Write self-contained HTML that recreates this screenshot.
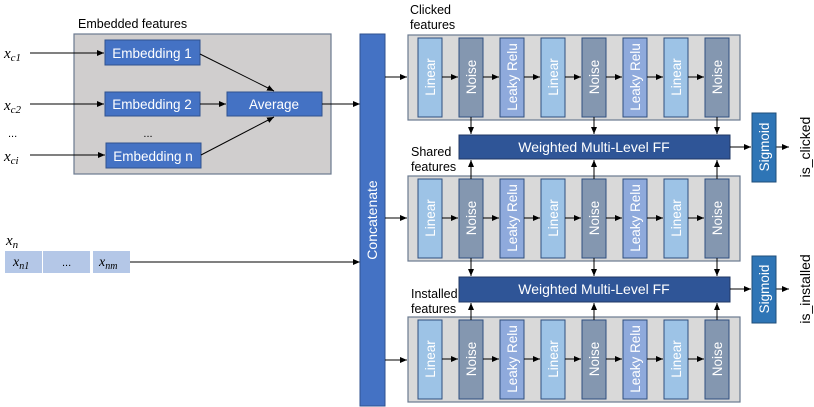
<!DOCTYPE html>
<html><head><meta charset="utf-8"><style>
html,body{margin:0;padding:0;background:#fff}
svg{display:block}
text{font-family:"Liberation Sans",sans-serif}
.m{font-family:"Liberation Serif",serif;font-style:italic}
.w{fill:#fff;font-size:13.5px}
.bl{fill:#4472c4;stroke:#2f528f;stroke-width:1}
.L{fill:#9dc3e6;stroke:#2f4f7f;stroke-width:1}
.N{fill:#8497b0;stroke:#2f4f7f;stroke-width:1}
.R{fill:#8faadc;stroke:#2f4f7f;stroke-width:1}
.gb{fill:#d9d9d9;stroke:#6b7a90;stroke-width:1.2}
.ln{stroke:#000;stroke-width:1;fill:none}
</style></head><body>
<svg width="814" height="407" viewBox="0 0 814 407" xmlns="http://www.w3.org/2000/svg">
<defs>
<marker id="a" markerWidth="8" markerHeight="8" refX="7" refY="4" orient="auto" markerUnits="userSpaceOnUse">
<path d="M0,1 L7,4 L0,7 z" fill="#000"/></marker>
<g id="row">
<rect class="gb" x="408" y="35" width="332" height="85"/>
<rect class="L" x="418" y="38" width="24" height="79"/>
<rect class="N" x="459" y="38" width="24" height="79"/>
<rect class="R" x="500" y="38" width="24" height="79"/>
<rect class="L" x="541" y="38" width="24" height="79"/>
<rect class="N" x="582" y="38" width="24" height="79"/>
<rect class="R" x="623" y="38" width="24" height="79"/>
<rect class="L" x="664" y="38" width="24" height="79"/>
<rect class="N" x="705" y="38" width="24" height="79"/>
<g class="ln" marker-end="url(#a)">
<line x1="442" y1="77" x2="458" y2="77"/>
<line x1="483" y1="77" x2="499" y2="77"/>
<line x1="524" y1="77" x2="540" y2="77"/>
<line x1="565" y1="77" x2="581" y2="77"/>
<line x1="606" y1="77" x2="622" y2="77"/>
<line x1="647" y1="77" x2="663" y2="77"/>
<line x1="688" y1="77" x2="704" y2="77"/>
</g>
<g class="w" text-anchor="middle">
<text transform="translate(435,77) rotate(-90)">Linear</text>
<text transform="translate(476,77) rotate(-90)">Noise</text>
<text transform="translate(517,77) rotate(-90)">Leaky Relu</text>
<text transform="translate(558,77) rotate(-90)">Linear</text>
<text transform="translate(599,77) rotate(-90)">Noise</text>
<text transform="translate(640,77) rotate(-90)">Leaky Relu</text>
<text transform="translate(681,77) rotate(-90)">Linear</text>
<text transform="translate(722,77) rotate(-90)">Noise</text>
</g>
</g>
</defs>

<text x="78" y="28" font-size="12.5">Embedded features</text>
<rect x="74" y="34" width="257" height="140" fill="#d0cece" stroke="#6b7a90" stroke-width="1.2"/>
<rect class="bl" x="105" y="40" width="95" height="25"/>
<rect class="bl" x="105" y="92" width="95" height="24"/>
<rect class="bl" x="106" y="143" width="95" height="25"/>
<rect class="bl" x="227" y="92" width="95" height="24"/>
<g class="w" text-anchor="middle">
<text x="152" y="58" style="font-size:13.5px">Embedding 1</text>
<text x="152" y="109" style="font-size:13.5px">Embedding 2</text>
<text x="153" y="161" style="font-size:13.5px">Embedding n</text>
<text x="274" y="109" style="font-size:13.5px">Average</text>
</g>
<text x="148" y="137" font-size="11" text-anchor="middle">...</text>
<text x="8" y="137" font-size="11">...</text>
<text class="m" x="4" y="58" font-size="15">x<tspan font-size="11" dy="3">c1</tspan></text>
<text class="m" x="4" y="110" font-size="15">x<tspan font-size="11" dy="3">c2</tspan></text>
<text class="m" x="4" y="161" font-size="15">x<tspan font-size="11" dy="3">ci</tspan></text>
<g class="ln" marker-end="url(#a)">
<line x1="30" y1="53" x2="104" y2="53"/>
<line x1="30" y1="104" x2="104" y2="104"/>
<line x1="30" y1="155" x2="105" y2="155"/>
<line x1="200" y1="104" x2="226" y2="104"/>
<line x1="200" y1="54" x2="274" y2="91"/>
<line x1="201" y1="155" x2="274" y2="117"/>
<line x1="322" y1="104" x2="360" y2="104"/>
<line x1="130" y1="262" x2="360" y2="262"/>
</g>

<text class="m" x="6" y="245" font-size="15">x<tspan font-size="11" dy="3">n</tspan></text>
<rect x="5" y="251" width="37" height="22" fill="#b4c7e7"/>
<rect x="43" y="251" width="47" height="22" fill="#b4c7e7"/>
<rect x="93" y="251" width="37" height="22" fill="#b4c7e7"/>
<text class="m" x="13" y="266" font-size="14">x<tspan font-size="10" dy="3">n1</tspan></text>
<text x="62" y="266" font-size="11">...</text>
<text class="m" x="99" y="266" font-size="14">x<tspan font-size="10" dy="3">nm</tspan></text>

<rect x="360" y="34" width="25" height="372" fill="#4472c4" stroke="#2f528f"/>
<text class="w" text-anchor="middle" transform="translate(377,220) rotate(-90)" style="font-size:14px">Concatenate</text>
<g class="ln" marker-end="url(#a)">
<line x1="385" y1="77" x2="407" y2="77"/>
<line x1="385" y1="218" x2="407" y2="218"/>
<line x1="385" y1="360" x2="407" y2="360"/>
</g>

<text x="410" y="14" font-size="12.5">Clicked</text>
<text x="410" y="29" font-size="12.5">features</text>
<use href="#row"/>
<text x="411" y="156" font-size="12.5">Shared</text>
<text x="411" y="171" font-size="12.5">features</text>
<use href="#row" transform="translate(0,141)"/>
<text x="411" y="298" font-size="12.5">Installed</text>
<text x="411" y="313" font-size="12.5">features</text>
<use href="#row" transform="translate(0,282)"/>

<rect x="459" y="135" width="271" height="24" fill="#2f5597" stroke="#203864"/>
<text class="w" x="594" y="152" text-anchor="middle" style="font-size:14px">Weighted Multi-Level FF</text>
<rect x="459" y="277" width="271" height="25" fill="#2f5597" stroke="#203864"/>
<text class="w" x="594" y="294" text-anchor="middle" style="font-size:14px">Weighted Multi-Level FF</text>
<g class="ln" marker-end="url(#a)">
<line x1="471" y1="117" x2="471" y2="134"/>
<line x1="594" y1="117" x2="594" y2="134"/>
<line x1="717" y1="117" x2="717" y2="134"/>
<line x1="471" y1="179" x2="471" y2="160"/>
<line x1="594" y1="179" x2="594" y2="160"/>
<line x1="717" y1="179" x2="717" y2="160"/>
<line x1="471" y1="258" x2="471" y2="276"/>
<line x1="594" y1="258" x2="594" y2="276"/>
<line x1="717" y1="258" x2="717" y2="276"/>
<line x1="471" y1="320" x2="471" y2="303"/>
<line x1="594" y1="320" x2="594" y2="303"/>
<line x1="717" y1="320" x2="717" y2="303"/>
<line x1="730" y1="147" x2="751" y2="147"/>
<line x1="776" y1="147" x2="789" y2="147"/>
<line x1="730" y1="289" x2="751" y2="289"/>
<line x1="776" y1="289" x2="789" y2="289"/>
</g>

<rect x="752" y="113" width="24" height="69" fill="#2e75b6" stroke="#1f4e79"/>
<text class="w" text-anchor="middle" transform="translate(769,147) rotate(-90)" style="font-size:13.5px">Sigmoid</text>
<rect x="752" y="256" width="24" height="67" fill="#2e75b6" stroke="#1f4e79"/>
<text class="w" text-anchor="middle" transform="translate(769,289) rotate(-90)" style="font-size:13.5px">Sigmoid</text>
<text text-anchor="middle" font-size="14" transform="translate(810,147) rotate(-90)">is_clicked</text>
<text text-anchor="middle" font-size="14" transform="translate(810,289) rotate(-90)">is_installed</text>
</svg>
</body></html>
